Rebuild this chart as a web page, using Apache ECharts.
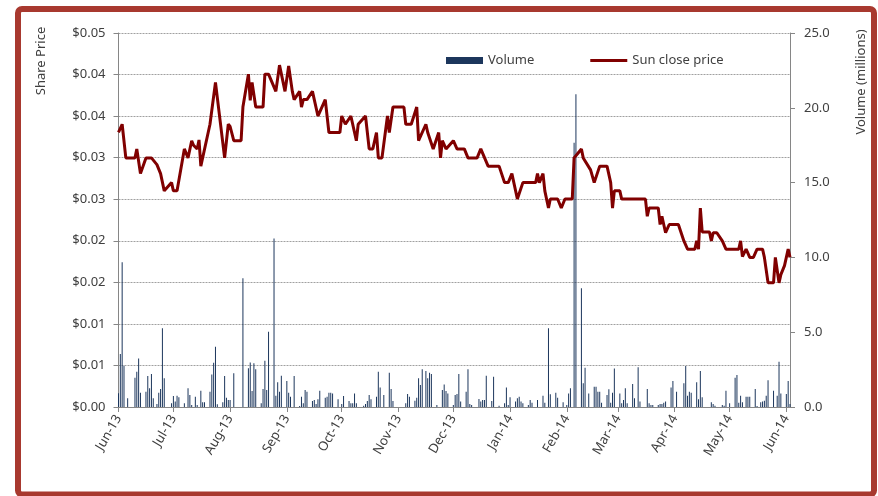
<!DOCTYPE html>
<html><head><meta charset="utf-8">
<script src="https://cdn.jsdelivr.net/npm/echarts@6/dist/echarts.min.js"></script>
<style>html,body{margin:0;padding:0;background:#fff}#c{width:878px;height:496px}</style>
</head><body><div id="c"></div>
<script>
// ---- data ----
const axisStart = '2013-06-01';
const axisEnd = '2014-06-03';
const monthNames = ['Jan','Feb','Mar','Apr','May','Jun','Jul','Aug','Sep','Oct','Nov','Dec'];

const priceDates = [
'2013-06-01','2013-06-02','2013-06-03','2013-06-05','2013-06-10','2013-06-11','2013-06-13','2013-06-16','2013-06-19','2013-06-22','2013-06-24','2013-06-26','2013-06-30',
'2013-07-01','2013-07-03','2013-07-07','2013-07-09','2013-07-11','2013-07-12','2013-07-14','2013-07-15','2013-07-16','2013-07-17','2013-07-21','2013-07-22','2013-07-24','2013-07-25','2013-07-29','2013-07-31',
'2013-08-01','2013-08-03','2013-08-07','2013-08-08','2013-08-11','2013-08-12','2013-08-13','2013-08-15','2013-08-19','2013-08-20','2013-08-22','2013-08-26','2013-08-28','2013-08-29','2013-08-31',
'2013-09-02','2013-09-04','2013-09-05','2013-09-08','2013-09-09','2013-09-10','2013-09-12','2013-09-15','2013-09-16','2013-09-18','2013-09-19','2013-09-22','2013-09-24','2013-09-30',
'2013-10-01','2013-10-03','2013-10-06','2013-10-07','2013-10-09','2013-10-10','2013-10-14','2013-10-16','2013-10-18','2013-10-20','2013-10-21','2013-10-23','2013-10-26','2013-10-27','2013-10-29',
'2013-11-04','2013-11-05','2013-11-08','2013-11-11','2013-11-12','2013-11-16','2013-11-17','2013-11-18','2013-11-20','2013-11-23','2013-11-24','2013-11-25','2013-11-27',
'2013-12-01','2013-12-03','2013-12-07','2013-12-09','2013-12-14','2013-12-16','2013-12-20','2013-12-26','2013-12-29','2013-12-31',
'2014-01-02','2014-01-05','2014-01-08','2014-01-15','2014-01-16','2014-01-17','2014-01-19','2014-01-20','2014-01-22','2014-01-23','2014-01-27','2014-01-29','2014-01-31',
'2014-02-04','2014-02-05','2014-02-07','2014-02-09','2014-02-10','2014-02-11','2014-02-14','2014-02-16','2014-02-19','2014-02-23','2014-02-25','2014-02-26','2014-02-27',
'2014-03-02','2014-03-03','2014-03-16','2014-03-17','2014-03-18','2014-03-23','2014-03-24','2014-03-25','2014-03-27','2014-03-29',
'2014-04-03','2014-04-06','2014-04-08','2014-04-12','2014-04-13','2014-04-14','2014-04-15','2014-04-16','2014-04-20','2014-04-21','2014-04-22','2014-04-24','2014-04-27','2014-04-29',
'2014-05-06','2014-05-07','2014-05-08','2014-05-10','2014-05-12','2014-05-14','2014-05-16','2014-05-19','2014-05-20','2014-05-21','2014-05-22','2014-05-25','2014-05-26','2014-05-28','2014-05-29','2014-05-31',
'2014-06-02','2014-06-03'
];
const priceValues = [
0.0367,0.0367,0.0378,0.0333,0.0333,0.0345,0.0312,0.0333,0.0333,0.0324,0.0312,0.0289,0.0300,
0.0289,0.0289,0.0345,0.0333,0.0356,0.0350,0.0345,0.0357,0.0322,0.0322,0.0378,0.0378,0.0434,0.0434,0.0333,0.0378,
0.0375,0.0356,0.0356,0.0401,0.0445,0.0410,0.0434,0.0401,0.0401,0.0445,0.0445,0.0422,0.0457,0.0457,0.0422,
0.0456,0.0422,0.0411,0.0422,0.0401,0.0411,0.0411,0.0422,0.0411,0.0389,0.0389,0.0411,0.0367,0.0367,
0.0389,0.0378,0.0389,0.0378,0.0356,0.0378,0.0389,0.0345,0.0345,0.0367,0.0333,0.0333,0.0389,0.0367,0.0401,
0.0401,0.0378,0.0378,0.0401,0.0356,0.0378,0.0367,0.0367,0.0345,0.0367,0.0333,0.0356,0.0345,
0.0356,0.0345,0.0345,0.0333,0.0333,0.0345,0.0322,0.0322,0.0300,0.0300,
0.0312,0.0278,0.0300,0.0300,0.0312,0.0300,0.0312,0.0289,0.0266,0.0278,0.0278,0.0266,0.0278,
0.0278,0.0333,0.0339,0.0345,0.0333,0.0333,0.0317,0.0300,0.0322,0.0322,0.0300,0.0266,0.0289,
0.0289,0.0278,0.0278,0.0255,0.0266,0.0266,0.0244,0.0255,0.0233,0.0244,
0.0244,0.0222,0.0211,0.0211,0.0222,0.0211,0.0266,0.0234,0.0234,0.0222,0.0233,0.0233,0.0222,0.0211,
0.0211,0.0222,0.0201,0.0211,0.0200,0.0200,0.0211,0.0211,0.0200,0.0200,0.0166,0.0166,0.0200,0.0166,0.0177,0.0189,
0.0211,0.0200
];

const volumeDates = [
'2013-06-01','2013-06-02','2013-06-03','2013-06-04','2013-06-06','2013-06-10','2013-06-11','2013-06-12','2013-06-13','2013-06-16','2013-06-17','2013-06-18','2013-06-19','2013-06-20','2013-06-22','2013-06-23','2013-06-24','2013-06-25','2013-06-26','2013-06-30',
'2013-07-01','2013-07-02','2013-07-03','2013-07-04','2013-07-07','2013-07-09','2013-07-10','2013-07-11','2013-07-13','2013-07-14','2013-07-16','2013-07-17','2013-07-18','2013-07-21','2013-07-22','2013-07-23','2013-07-24','2013-07-25','2013-07-28','2013-07-29','2013-07-30','2013-07-31',
'2013-08-01','2013-08-03','2013-08-08','2013-08-11','2013-08-12','2013-08-13','2013-08-14','2013-08-15','2013-08-18','2013-08-19','2013-08-20','2013-08-21','2013-08-22','2013-08-25','2013-08-26','2013-08-27','2013-08-28','2013-08-29',
'2013-09-01','2013-09-02','2013-09-03','2013-09-05','2013-09-08','2013-09-09','2013-09-10','2013-09-11','2013-09-12','2013-09-15','2013-09-16','2013-09-17','2013-09-18','2013-09-19','2013-09-22','2013-09-23','2013-09-24','2013-09-25','2013-09-26','2013-09-29',
'2013-10-01','2013-10-02','2013-10-05','2013-10-06','2013-10-07','2013-10-08','2013-10-09','2013-10-13','2013-10-14','2013-10-15','2013-10-16','2013-10-17','2013-10-20','2013-10-21','2013-10-22','2013-10-24','2013-10-27','2013-10-28','2013-10-29',
'2013-11-05','2013-11-06','2013-11-07','2013-11-10','2013-11-11','2013-11-12','2013-11-13','2013-11-14','2013-11-16','2013-11-17','2013-11-18','2013-11-19','2013-11-22','2013-11-25','2013-11-26','2013-11-27','2013-11-28',
'2013-12-01','2013-12-02','2013-12-03','2013-12-04','2013-12-05','2013-12-08','2013-12-09','2013-12-10','2013-12-11','2013-12-15','2013-12-16','2013-12-17','2013-12-18','2013-12-19','2013-12-22','2013-12-23','2013-12-26','2013-12-29','2013-12-30','2013-12-31',
'2014-01-01','2014-01-04','2014-01-05','2014-01-06','2014-01-07','2014-01-08','2014-01-11','2014-01-12','2014-01-13','2014-01-16','2014-01-19','2014-01-20','2014-01-22','2014-01-23','2014-01-26','2014-01-27','2014-01-30',
'2014-02-01','2014-02-02','2014-02-03','2014-02-05','2014-02-06','2014-02-09','2014-02-10','2014-02-11','2014-02-13','2014-02-16','2014-02-17','2014-02-18','2014-02-19','2014-02-20','2014-02-23','2014-02-24','2014-02-25','2014-02-26','2014-02-27',
'2014-03-02','2014-03-03','2014-03-04','2014-03-05','2014-03-06','2014-03-09','2014-03-10','2014-03-12','2014-03-13','2014-03-17','2014-03-18','2014-03-19','2014-03-20','2014-03-23','2014-03-24','2014-03-25','2014-03-26','2014-03-27','2014-03-30','2014-03-31',
'2014-04-02','2014-04-06','2014-04-07','2014-04-08','2014-04-09','2014-04-10','2014-04-13','2014-04-14','2014-04-15','2014-04-16','2014-04-21','2014-04-22','2014-04-23','2014-04-27','2014-04-28','2014-04-29',
'2014-05-01','2014-05-04','2014-05-05','2014-05-06','2014-05-07','2014-05-08','2014-05-10','2014-05-11','2014-05-12','2014-05-15','2014-05-16','2014-05-18','2014-05-19','2014-05-20','2014-05-21','2014-05-22','2014-05-25','2014-05-27','2014-05-28','2014-05-29',
'2014-06-01','2014-06-02','2014-06-03'
];
const volumeValues = [
0.92,3.54,9.67,2.76,0.58,1.96,2.36,3.25,0.96,1.02,2.07,1.25,2.2,0.58,0.2,0.96,1.2,5.26,1.92,0.25,
0.73,0.36,0.76,0.65,0.25,1.25,0.8,0.13,0.69,0.13,1.09,0.31,0.31,1.02,2.18,2.96,4.03,0.18,0.31,2.07,0.62,0.47,
0.47,2.25,8.6,2.59,2.98,1.07,2.92,2.52,0.25,1.2,3.09,1.14,5.03,11.27,0.76,1.65,1.02,2.09,
1.74,0.96,0.69,2.07,0.07,0.69,0.25,1.14,1.02,0.4,0.47,0.2,0.51,1.09,0.62,0.69,0.96,0.96,0.91,0.51,
0.2,0.73,0.4,0.25,0.25,0.91,0.25,0.09,0.2,0.4,0.8,0.51,0.69,2.36,1.31,0.8,2.29,1.2,0.4,
0.25,0.87,0.69,0.42,0.62,1.92,1.47,2.52,2.4,1.92,2.29,2.2,0.13,1.14,1.51,1.07,0.91,
0.13,0.8,0.87,2.2,0.36,1.02,2.52,0.2,0.13,0.53,0.36,0.47,0.47,2.09,0.4,2.02,0.09,0.25,1.31,0.13,
0.65,0.36,0.58,0.69,0.36,0.25,0.13,0.47,0.29,0.47,0.76,0.29,5.26,0.85,0.96,0.62,0.31,
0.13,0.91,1.25,17.66,20.9,7.93,1.58,2.63,0.91,1.36,1.36,1.02,1.02,0.29,0.8,1.18,0.29,0.96,2.58,
0.91,0.25,0.47,1.25,0.25,1.54,0.58,2.65,0.36,1.2,0.25,0.13,0.13,0.13,0.2,0.2,0.29,0.36,1.31,1.74,
1.02,1.58,2.74,0.76,1.02,0.96,1.65,0.51,2.4,0.65,0.31,0.2,0.09,0.13,0.09,1.09,
0.25,1.96,2.14,0.29,0.76,0.31,0.69,0.69,0.69,1.2,0.07,0.31,0.36,0.42,0.76,1.78,1.09,0.76,3.03,0.91,
0.87,1.74,0.2
];

const priceMax = 0.05, priceSteps = 9;
const volumeMax = 25, volumeStep = 5;

// ---- build daily category axis ----
const days = [];
{
  const p = s => { const a = s.split('-').map(Number); return Date.UTC(a[0], a[1]-1, a[2]); };
  for (let t = p(axisStart); t <= p(axisEnd); t += 86400000) {
    days.push(new Date(t).toISOString().slice(0, 10));
  }
}
const idx = {}; days.forEach((d, i) => idx[d] = i);
const volumeSeries = days.map(() => null);
volumeDates.forEach((d, i) => { volumeSeries[idx[d]] = volumeValues[i]; });
const priceSeries = days.map(() => null);
priceDates.forEach((d, i) => { priceSeries[idx[d]] = priceValues[i]; });

const isMonthStart = (i, v) => v.slice(8) === '01';
const txt = '#404040';
const font = 'Noto Sans';

const chart = echarts.init(document.getElementById('c'), null, {renderer: 'canvas'});
chart.setOption({
  animation: false,
  backgroundColor: '#fff',
  textStyle: {fontFamily: font},
  grid: {left: 118.5, right: 88, top: 33, bottom: 89},
  legend: {
    left: 441, top: 49, itemWidth: 37, itemHeight: 7, itemGap: 56,
    textStyle: {fontSize: 13, color: txt, fontFamily: font},
    data: [
      {name: 'Volume', icon: 'rect'},
      {name: 'Sun close price', icon: 'path://M0,0H40V3H0Z'}
    ]
  },
  xAxis: {
    type: 'category', data: days, boundaryGap: false,
    axisLine: {lineStyle: {color: '#868686'}},
    axisTick: {interval: isMonthStart, length: 5, lineStyle: {color: '#868686'}},
    axisLabel: {
      interval: isMonthStart, rotate: 60, margin: 9, fontSize: 13, color: txt,
      formatter: v => monthNames[+v.slice(5,7)-1] + '-' + v.slice(2,4)
    },
    splitLine: {show: false}
  },
  yAxis: [
    {
      type: 'value', min: 0, max: priceMax, interval: priceMax / priceSteps,
      axisLine: {show: true, lineStyle: {color: '#868686'}},
      axisTick: {show: true, length: 5, lineStyle: {color: '#868686'}},
      axisLabel: {margin: 13, fontSize: 13, color: txt, formatter: v => '$' + v.toFixed(2)},
      splitLine: {show: true, lineStyle: {color: '#a0a0a0', type: [2, 1], width: 1}}
    },
    {
      type: 'value', min: 0, max: volumeMax, interval: volumeStep, position: 'right',
      axisLine: {show: true, lineStyle: {color: '#868686'}},
      axisTick: {show: true, length: 5, lineStyle: {color: '#868686'}},
      axisLabel: {margin: 14, fontSize: 13, color: txt, formatter: v => v.toFixed(1)},
      splitLine: {show: false}
    }
  ],
  series: [
    {
      name: 'Volume', type: 'bar', yAxisIndex: 1, data: volumeSeries,
      barWidth: 1, itemStyle: {color: '#1c365c'}
    },
    {
      name: 'Sun close price', type: 'line', yAxisIndex: 0, data: priceSeries,
      connectNulls: true, showSymbol: false, symbol: 'none',
      lineStyle: {color: '#800000', width: 3}, itemStyle: {color: '#800000'}
    }
  ],
  graphic: [
    {type: 'rect', z: 100, silent: true,
     shape: {x: 18, y: 9, width: 856, height: 485.5, r: 4},
     style: {fill: 'none', stroke: '#a8392f', lineWidth: 6}},
    {type: 'text', x: 41, y: 61, rotation: Math.PI / 2,
     style: {text: 'Share Price', x: 0, y: 0, align: 'center', verticalAlign: 'middle',
             fontSize: 13, fontFamily: font, fill: txt}},
    {type: 'text', x: 861, y: 82, rotation: Math.PI / 2,
     style: {text: 'Volume (millions)', x: 0, y: 0, align: 'center', verticalAlign: 'middle',
             fontSize: 13, fontFamily: font, fill: txt}}
  ]
});
</script>
</body></html>
